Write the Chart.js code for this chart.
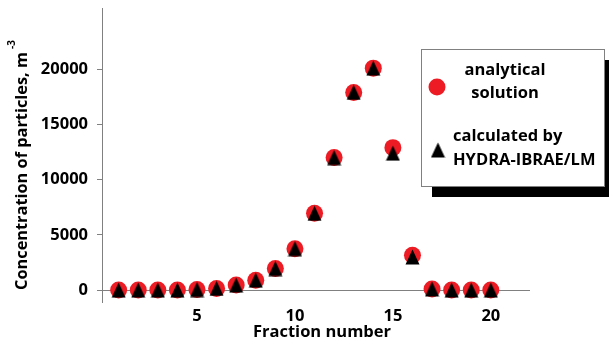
<!DOCTYPE html>
<html><head><meta charset="utf-8">
<script src="https://cdn.jsdelivr.net/npm/chart.js@4"></script>
<style>html,body{margin:0;padding:0;background:#fff}#wrap{width:609px;height:343px}</style>
</head><body><div id="wrap"><canvas id="c"></canvas></div>
<script>
const fractions = [1,2,3,4,5,6,7,8,9,10,11,12,13,14,15,16,17,18,19,20];
const analytical = [0,0,0,0,50,150,450,900,1950,3750,6950,12000,17900,20100,12900,3150,100,0,0,0];
const calculated = [0,0,0,0,50,150,450,900,1950,3750,6950,12000,17900,20100,12400,3000,100,0,0,0];
const xTicks = [5,10,15,20];
const yTicks = [0,5000,10000,15000,20000];
const labelAnalytical = ['analytical','solution'];
const labelCalculated = ['calculated by','HYDRA-IBRAE/LM'];
const yTitle = 'Concentration of particles, m';
const yTitleSup = '-3';
const xTitle = 'Fraction number';

const FONT = '"Open Sans", Lato, sans-serif';
const RED = '#ed1c24';

function triCanvas(w,h){
  const c=document.createElement('canvas');c.width=w;c.height=h;
  const g=c.getContext('2d');g.fillStyle='#000';g.beginPath();
  g.moveTo(w/2,0.5);g.lineTo(w-0.5,h-0.5);g.lineTo(0.5,h-0.5);g.closePath();g.fill();
  return c;
}
const tri = triCanvas(15,16);

const overlay = {
  id:'overlay',
  afterDraw(chart){
    const ctx=chart.ctx;
    ctx.save();
    ctx.fillStyle='#000';
    ctx.font='bold 14px '+FONT;
    let w=ctx.measureText(yTitle).width;
    const fs=14*238/w;
    ctx.font='bold '+fs.toFixed(2)+'px '+FONT;
    w=ctx.measureText(yTitle).width;
    ctx.translate(27,290);ctx.rotate(-Math.PI/2);
    ctx.textAlign='left';ctx.textBaseline='alphabetic';
    ctx.fillText(yTitle,0,0);
    ctx.font='bold 10px '+FONT;
    ctx.fillText(yTitleSup,w+3,-12);
    ctx.restore();
    ctx.save();
    ctx.fillStyle='#000';ctx.font='bold 16.5px '+FONT;
    ctx.textAlign='center';ctx.textBaseline='middle';
    ctx.fillText(xTitle,322,332);
    ctx.restore();
    ctx.save();
    const L=421,T=49,R=604,B=186;
    ctx.fillStyle='#000';ctx.fillRect(L+11,T+11,R-L,B-T);
    ctx.fillStyle='#fff';ctx.fillRect(L,T,R-L,B-T);
    ctx.strokeStyle='#808080';ctx.lineWidth=1;ctx.strokeRect(L+0.5,T+0.5,R-L,B-T);
    ctx.fillStyle=RED;ctx.beginPath();ctx.arc(437,87,8.5,0,Math.PI*2);ctx.fill();
    ctx.drawImage(tri,438-7.5,150-8);
    ctx.fillStyle='#000';ctx.font='bold 16.5px '+FONT;ctx.textBaseline='middle';
    ctx.textAlign='center';
    ctx.fillText(labelAnalytical[0],505,70);
    ctx.fillText(labelAnalytical[1],505,93);
    ctx.textAlign='left';
    ctx.fillText(labelCalculated[0],453,136);
    ctx.fillText(labelCalculated[1],453,160);
    ctx.restore();
  }
};

new Chart(document.getElementById('c'),{
  type:'scatter',
  data:{datasets:[
    {label:labelAnalytical.join(' '),data:fractions.map((f,i)=>({x:f,y:analytical[i]})),
     pointStyle:'circle',pointRadius:8.5,pointHoverRadius:8.5,backgroundColor:RED,borderWidth:0,order:2},
    {label:labelCalculated.join(' '),data:fractions.map((f,i)=>({x:f,y:calculated[i]})),
     pointStyle:tri,pointRadius:8,backgroundColor:'#000',borderWidth:0,order:1}
  ]},
  options:{
    responsive:true,maintainAspectRatio:false,animation:false,
    layout:{padding:{top:7,right:79,left:0,bottom:0}},
    plugins:{legend:{display:false},tooltip:{enabled:false}},
    scales:{
      x:{type:'linear',min:0.15,max:22,
        afterBuildTicks:a=>{a.ticks=xTicks.map(v=>({value:v}));},
        afterFit:a=>{a.height=41;a.paddingLeft=0;a.paddingRight=0;},
        grid:{display:false,drawTicks:false},border:{display:false},
        ticks:{padding:4,color:'#000',font:{family:FONT,size:16.5,weight:'bold'},maxRotation:0,callback:v=>String(v)}
      },
      y:{min:-1080,max:25500,
        afterBuildTicks:a=>{a.ticks=yTicks.map(v=>({value:v}));},
        afterFit:a=>{a.width=102;a.paddingTop=0;a.paddingBottom=0;},
        grid:{display:true,drawOnChartArea:true,color:c=>c.tick&&c.tick.value===0?'#808080':'rgba(0,0,0,0)',
              tickColor:'#808080',tickLength:5,lineWidth:1},
        border:{display:true,color:'#808080',width:1},
        ticks:{padding:9,color:'#000',font:{family:FONT,size:16.5,weight:'bold'},callback:v=>String(v)}
      }
    }
  },
  plugins:[overlay]
});
</script></body></html>
